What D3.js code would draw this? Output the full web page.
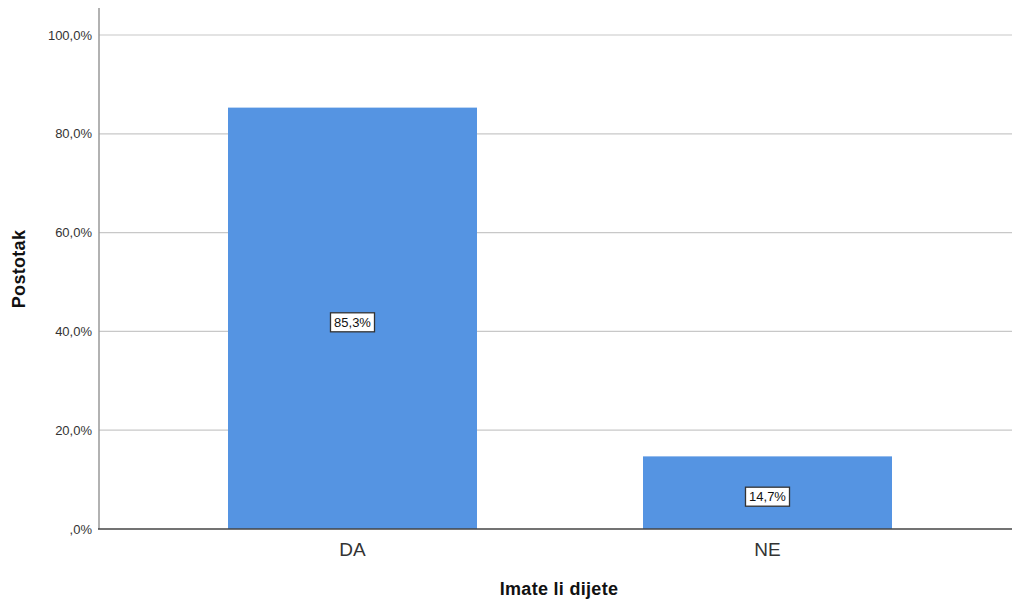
<!DOCTYPE html>
<html>
  <head>
    <meta charset="utf-8">
    <script src="https://d3js.org/d3.v7.min.js"></script>
    <style>
      body { margin: 0px; background: #fff; }
      .tick text { fill: #333; font-family: Arial, "Liberation Sans", sans-serif; }
      .axis-label { fill: #111; font-size: 18px; font-weight: bold; font-family: Arial, "Liberation Sans", sans-serif; letter-spacing: 0.3px; }
    </style>
  </head>
  <body>
    <svg width="1012" height="602"></svg>
    <script>
      const categories = ['DA', 'NE'];
      const percents = [85.3, 14.7];
      const yTicks = [0, 20, 40, 60, 80, 100];
      const xLabel = 'Imate li dijete';
      const yLabel = 'Postotak';

      const svg = d3.select('svg');
      const plotLeft = 99, plotRight = 1012, plotTop = 8, plotBottom = 529;

      const fmt = v => (v === 0 ? ',0' : v.toFixed(1).replace('.', ',')) + '%';

      const xScale = d3.scaleBand()
        .domain(categories)
        .range([103.5, 1016.5])
        .paddingInner(0.4)
        .paddingOuter(0.3);

      const yScale = d3.scaleLinear()
        .domain([0, 100])
        .range([plotBottom, 35]);

      // gridlines
      svg.append('g')
        .selectAll('line').data(yTicks.filter(d => d > 0))
        .enter().append('line')
          .attr('x1', plotLeft).attr('x2', plotRight)
          .attr('y1', d => yScale(d)).attr('y2', d => yScale(d))
          .attr('stroke', '#c8c8c8')
          .attr('stroke-width', 1.2);

      // bars
      svg.append('g')
        .selectAll('rect').data(categories)
        .enter().append('rect')
          .attr('x', d => xScale(d))
          .attr('width', xScale.bandwidth())
          .attr('y', (d, i) => yScale(percents[i]))
          .attr('height', (d, i) => plotBottom - yScale(percents[i]))
          .attr('fill', '#5594e2');

      // value labels
      const lab = svg.append('g')
        .selectAll('g').data(categories)
        .enter().append('g')
          .attr('transform', (d, i) => `translate(${xScale(d) + xScale.bandwidth() / 2},${(yScale(percents[i]) + plotBottom) / 2 + 4})`);
      lab.append('rect')
        .attr('x', -22).attr('y', -9.5)
        .attr('width', 44).attr('height', 19)
        .attr('fill', '#fff')
        .attr('stroke', '#333')
        .attr('stroke-width', 1.3);
      lab.append('text')
        .attr('text-anchor', 'middle')
        .attr('dy', '0.36em')
        .style('font-family', 'Arial, "Liberation Sans", sans-serif')
        .style('font-size', '13px')
        .attr('fill', '#111')
        .text((d, i) => fmt(percents[i]));

      // y axis
      const yAxisG = svg.append('g')
        .attr('transform', `translate(${plotLeft},0)`)
        .call(d3.axisLeft(yScale).tickValues(yTicks).tickFormat(fmt).tickSize(0).tickPadding(7));
      yAxisG.select('.domain').remove();
      yAxisG.selectAll('.tick text').style('font-size', '13px');
      svg.append('line')
        .attr('x1', plotLeft).attr('x2', plotLeft)
        .attr('y1', plotTop).attr('y2', plotBottom)
        .attr('stroke', '#999').attr('stroke-width', 1.5);

      // x axis
      const xAxisG = svg.append('g')
        .attr('transform', `translate(0,${plotBottom})`)
        .call(d3.axisBottom(xScale).tickSize(0));
      xAxisG.select('.domain').remove();
      xAxisG.selectAll('.tick text')
        .attr('y', 27).attr('dy', null)
        .style('font-size', '19px').attr('fill', '#333');
      svg.append('line')
        .attr('x1', plotLeft - 1).attr('x2', plotRight)
        .attr('y1', plotBottom).attr('y2', plotBottom)
        .attr('stroke', '#444').attr('stroke-width', 1.5);

      svg.append('text')
        .attr('class', 'axis-label')
        .attr('x', 559).attr('y', 595)
        .attr('text-anchor', 'middle')
        .text(xLabel);

      svg.append('text')
        .attr('class', 'axis-label')
        .attr('transform', `translate(25,269) rotate(-90)`)
        .attr('text-anchor', 'middle')
        .text(yLabel);
    </script>
  </body>
</html>
